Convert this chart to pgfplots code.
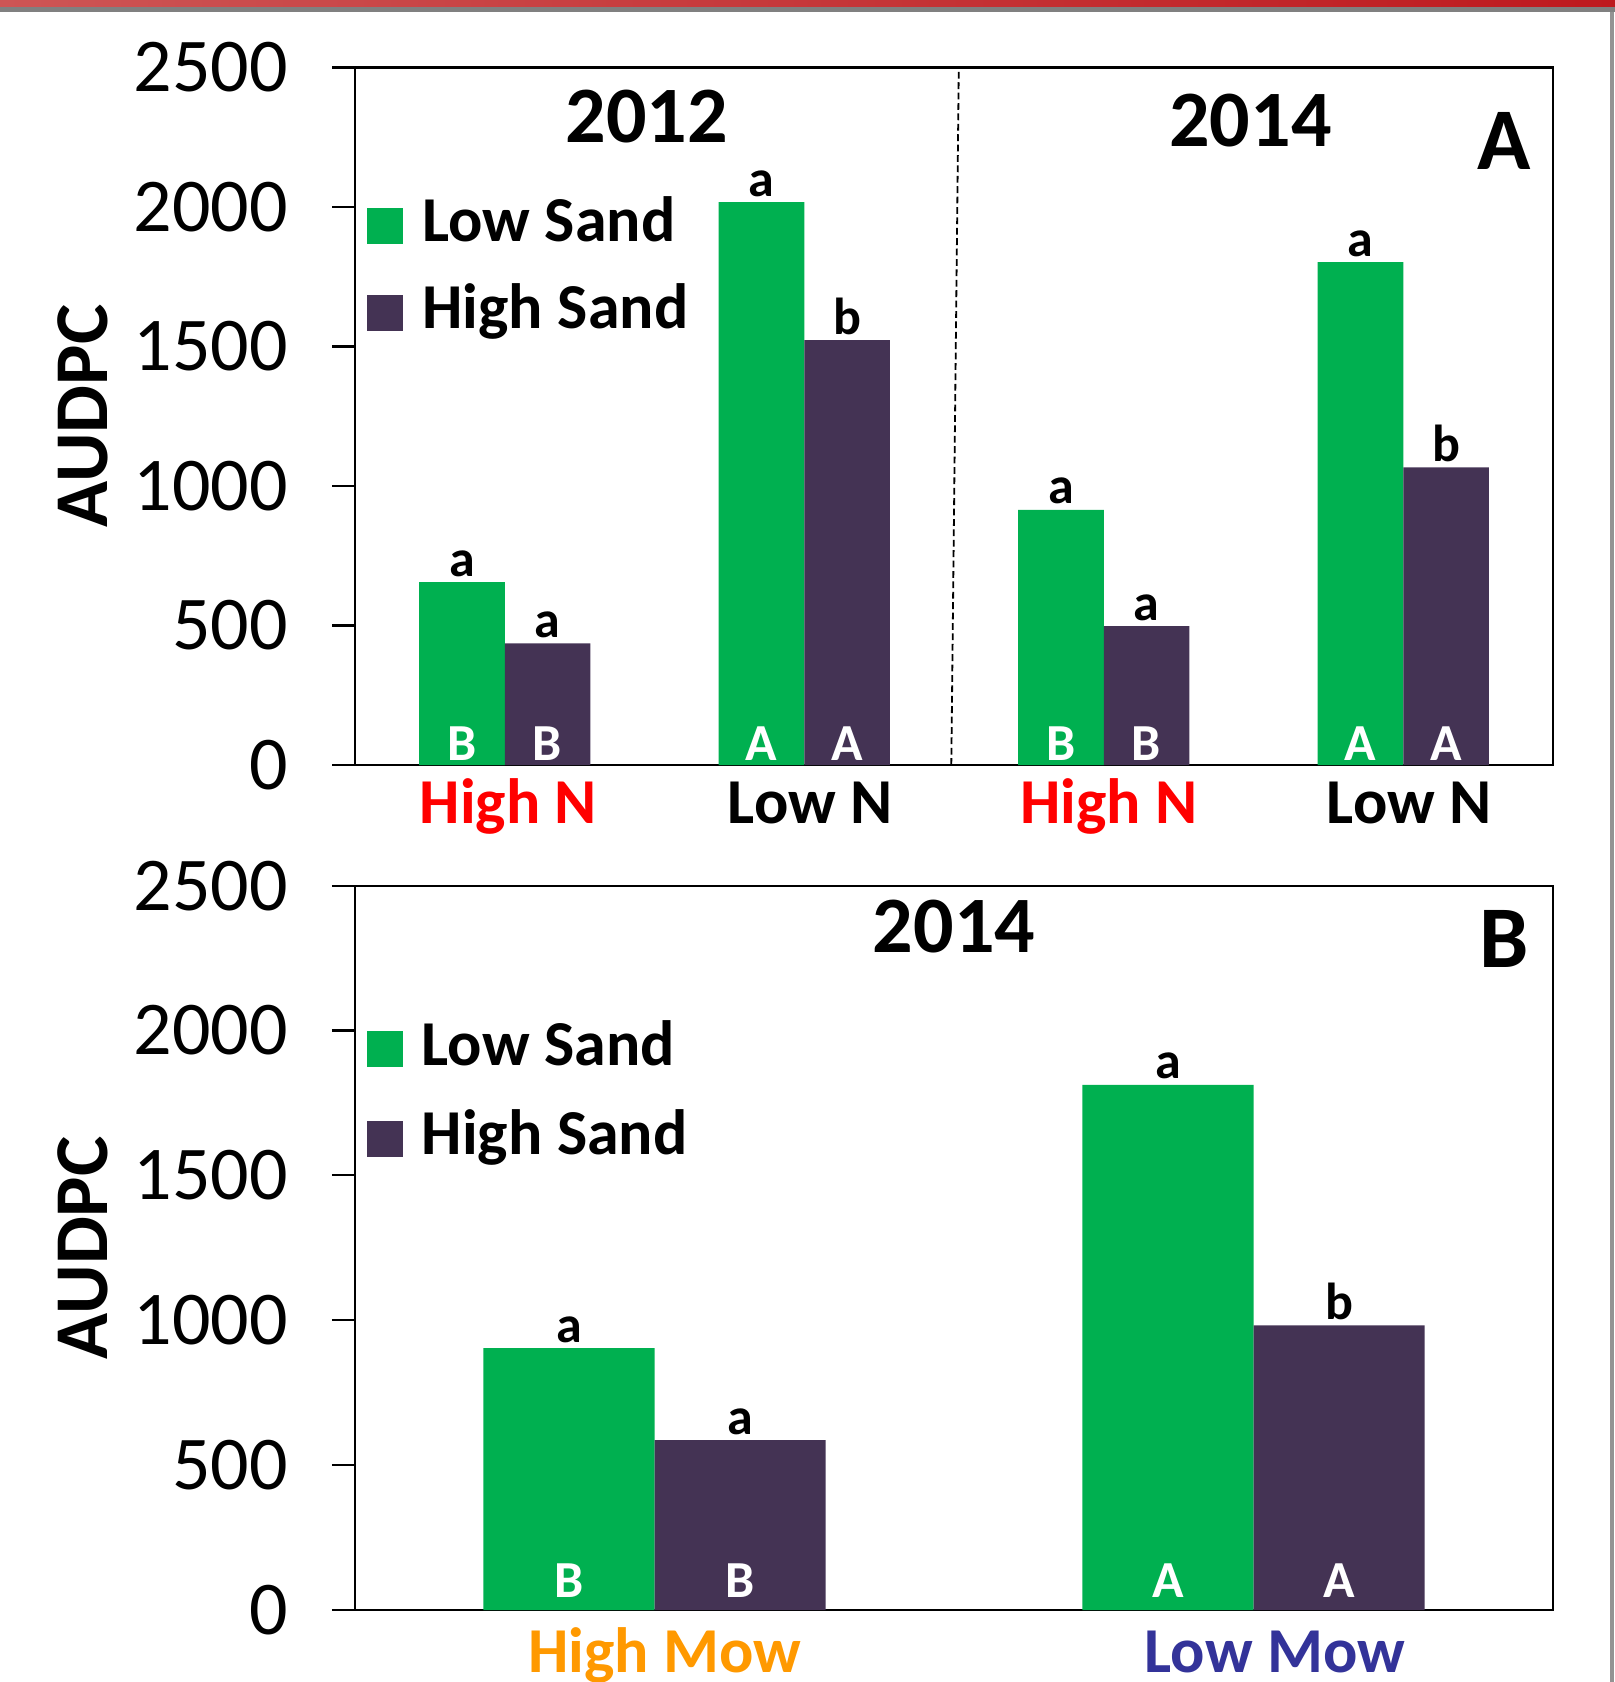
\documentclass[border=0pt]{standalone}
\usepackage{fontspec}
\setmainfont{Carlito}
\usepackage{pgfplots}
\pgfplotsset{compat=1.18}
\definecolor{lowsand}{RGB}{0,176,80}
\definecolor{highsand}{RGB}{68,51,84}
\definecolor{mowor}{RGB}{255,153,0}
\definecolor{mowbl}{RGB}{51,51,153}
\definecolor{bandL}{RGB}{205,85,85}
\definecolor{bandR}{RGB}{190,25,30}

\pgfplotsset{
  myaxis/.style={
    scale only axis, width=299.5pt,
    ymin=0, ymax=2500, ytick={0,500,1000,1500,2000,2500},
    axis line style={line width=0.55pt},
    tick align=outside, major tick length=5.75pt,
    ytick pos=left,
    xtick style={draw=none},
    ytick style={line width=0.55pt, black},
    /pgf/number format/assume math mode=true,
    /pgf/number format/set thousands separator={},
    yticklabel style={font=\fontsize{19}{22}\selectfont, anchor=east, inner sep=0pt, xshift=-10.9pt},
    every axis y label/.style={at={(axis description cs:-0.2062,0.5)}, rotate=90, anchor=base, font=\fontsize{19}{22}\selectfont\bfseries},
    ylabel={AUDPC},
    clip=false,
  },
  lsbar/.style={ybar, bar width=0.2857, bar shift=-0.14285, fill=lowsand, draw=none,
    legend image code/.code={\fill[lowsand] (0pt,-4.5pt) rectangle (9pt,4.5pt);}},
  hsbar/.style={ybar, bar width=0.2857, bar shift=0.14285, fill=highsand, draw=none,
    legend image code/.code={\fill[highsand] (0pt,-4.5pt) rectangle (9pt,4.5pt);}},
  toplet/.style={draw=none, forget plot, point meta=explicit symbolic, nodes near coords,
    every node near coord/.append style={font=\fontsize{13}{15}\selectfont\bfseries, inner sep=1.2pt, text=black}},
  inletters/.style={draw=none, forget plot, point meta=explicit symbolic, nodes near coords,
    every node near coord/.append style={font=\fontsize{13}{15}\selectfont\bfseries, inner sep=#1, text=white}},
}

\begin{document}
\begin{tikzpicture}
\useasboundingbox (0,0) rectangle (403.75pt,-420.5pt);
\shade[left color=bandL, right color=bandR] (0,0) rectangle (403.75pt,-1.75pt);
\fill[gray] (0,-1.75pt) rectangle (403.75pt,-3pt);
\fill[gray!85] (402.6pt,-3pt) rectangle (403.4pt,-420.5pt);

% ---------- Panel A ----------
\begin{axis}[myaxis,
  at={(88.75pt,-191.25pt)}, anchor=south west,
  height=174.4pt,
  xmin=-0.5, xmax=3.5, xtick={0.012,1.02,2.018,3.02},
  xticklabels={\textcolor{red}{High N}, Low N, \textcolor{red}{High N}, Low N},
  xticklabel style={font=\fontsize{16}{19}\selectfont\bfseries, anchor=base, inner sep=0pt, yshift=-8.85pt},
  legend style={at={(axis description cs:0.0104,0.8134)}, anchor=north west, draw=none, fill=none,
    inner sep=0pt, outer sep=0pt, row sep=7.8pt, column sep=4.75pt,
    font=\fontsize{16}{19}\selectfont\bfseries,
    nodes={inner sep=0pt, text height=11pt, text depth=3pt}},
  legend cell align=left,
]
\addplot[lsbar] coordinates {(0,655) (1,2017) (2,914) (3,1802)};
\addlegendentry{Low Sand}
\addplot[hsbar] coordinates {(0,436) (1,1523) (2,498) (3,1067)};
\addlegendentry{High Sand}
\addplot[toplet] coordinates {(-0.14285,655)[a] (0.85715,2017)[a] (1.85715,914)[a] (2.85715,1802)[a]
  (0.14285,436)[a] (1.14285,1523)[b] (2.14285,498)[a] (3.14285,1067)[b]};
\addplot[inletters=1pt] coordinates {(-0.14285,0)[B] (0.14285,0)[B] (0.85715,0)[A] (1.14285,0)[A] (1.85715,0)[B] (2.14285,0)[B] (2.85715,0)[A] (3.14285,0)[A]};
\addplot[forget plot, black, line width=0.45pt, dash pattern=on 1.7pt off 0.9pt] coordinates {(1.491,0) (1.516,2500)};
\node[anchor=base, font=\fontsize{20}{24}\selectfont\bfseries] at (axis cs:0.474,2232) {2012};
\node[anchor=base, font=\fontsize{20}{24}\selectfont\bfseries] at (axis cs:2.49,2215) {2014};
\node[anchor=base, font=\fontsize{22}{26}\selectfont\bfseries] at (axis cs:3.336,2133) {A};
\end{axis}

% ---------- Panel B ----------
\begin{axis}[myaxis,
  at={(88.75pt,-402.5pt)}, anchor=south west,
  height=181.1pt,
  xmin=-0.5, xmax=1.5, xtick={0.017,1.036},
  xticklabels={\textcolor{mowor}{High Mow}, \textcolor{mowbl}{Low Mow}},
  xticklabel style={font=\fontsize{16}{19}\selectfont\bfseries, anchor=base, inner sep=0pt, yshift=-9.85pt},
  legend style={at={(axis description cs:0.0098,0.8130)}, anchor=north west, draw=none, fill=none,
    inner sep=0pt, outer sep=0pt, row sep=8.4pt, column sep=4.75pt,
    font=\fontsize{16}{19}\selectfont\bfseries,
    nodes={inner sep=0pt, text height=11pt, text depth=3pt}},
  legend cell align=left,
]
\addplot[lsbar] coordinates {(0,904) (1,1812)};
\addlegendentry{Low Sand}
\addplot[hsbar] coordinates {(0,586) (1,982)};
\addlegendentry{High Sand}
\addplot[toplet] coordinates {(-0.14285,904)[a] (0.85715,1812)[a] (0.14285,586)[a] (1.14285,982)[b]};
\addplot[inletters=2.9pt] coordinates {(-0.14285,0)[B] (0.14285,0)[B] (0.85715,0)[A] (1.14285,0)[A]};
\node[anchor=base, font=\fontsize{20}{24}\selectfont\bfseries] at (axis cs:0.5,2269) {2014};
\node[anchor=base, font=\fontsize{22}{26}\selectfont\bfseries] at (axis cs:1.418,2218) {B};
\end{axis}
\end{tikzpicture}
\end{document}
